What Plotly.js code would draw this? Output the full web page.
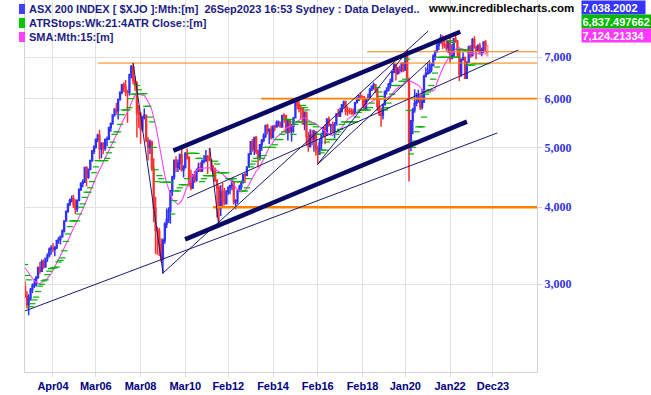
<!DOCTYPE html>
<html>
<head>
<meta charset="utf-8">
<script src="https://cdn.plot.ly/plotly-3.0.1.min.js"></script>
<style>
  html, body { margin: 0; padding: 0; background: #fff; }
  #chart { width: 651px; height: 395px; }
</style>
</head>
<body>
<div id="chart"></div>
<script>
// ---------------- DATA ----------------
const firstYear = 2003; // monthly bars from Jan 2003 to Sep 2023

const openP = [
 2976,2866,2782,2849,2942,2985,3000,3080,3190,3149,3264,3201,
 3306,3340,3420,3431,3420,3438,3533,3548,3587,3665,3801,3936,
 4050,4107,4130,4040,3972,4104,4277,4374,4396,4641,4475,4610,
 4763,4933,5004,5155,5231,4970,5073,4987,5148,5155,5386,5462,
 5644,5766,5736,5978,6145,6311,6274,6144,6141,6567,6754,6424,
 6340,5697,5660,5355,5597,5636,5133,5006,5098,4631,3986,3672,
 3659,3478,3297,3532,3753,3819,3947,4255,4479,4768,4643,4714,
 4871,4596,4639,4893,4809,4367,4301,4493,4427,4582,4631,4585,
 4745,4753,4828,4789,4760,4609,4608,4425,4297,3982,4243,4102,
 4057,4240,4308,4335,4396,4077,4095,4255,4317,4387,4517,4506,
 4649,4879,5104,4966,5191,4926,4803,5052,5135,5218,5425,5320,
 5352,5190,5404,5394,5489,5492,5396,5633,5625,5292,5526,5313,
 5411,5588,5929,5861,5790,5777,5459,5699,5207,5021,5239,5167,
 5296,4977,4881,5083,5252,5378,5233,5562,5433,5436,5317,5440,
 5665,5621,5712,5864,5924,5724,5721,5720,5715,5682,5909,5970,
 6065,6037,6016,5759,5982,6011,6195,6280,6320,6208,5830,5667,
 5646,5865,6169,6181,6326,6397,6619,6813,6604,6688,6663,6846,
 6684,7017,6441,5077,5523,5755,5898,5928,6061,5816,5928,6518,
 6587,6607,6673,6791,7025,7162,7313,7393,7535,7333,7324,7256,
 7445,6971,7049,7500,7435,7211,6568,6945,6987,6475,6863,7284,
 7039,7476,7258,7178,7309,7091,7203,7410,7305
];
const highP = [
 3033,2922,2890,2960,3010,3062,3090,3205,3260,3292,3290,3310,
 3370,3440,3470,3500,3460,3540,3580,3600,3680,3810,3950,4060,
 4130,4180,4190,4120,4110,4290,4390,4440,4650,4660,4620,4770,
 4950,5040,5170,5260,5340,5100,5100,5170,5210,5400,5490,5660,
 5790,5900,5990,6160,6340,6380,6430,6200,6580,6800,6851,6520,
 6400,5850,5700,5620,5790,5640,5200,5150,5130,4800,4160,3720,
 3700,3560,3560,3780,3980,4000,4260,4500,4780,4840,4780,4880,
 4970,4680,4910,4980,4840,4600,4530,4580,4620,4720,4730,4780,
 4860,4950,4860,4990,4790,4680,4640,4440,4340,4340,4380,4300,
 4260,4310,4350,4440,4420,4120,4270,4350,4420,4530,4550,4660,
 4890,5120,5160,5200,5220,4960,5060,5160,5270,5440,5460,5360,
 5420,5430,5440,5530,5530,5500,5640,5680,5650,5530,5560,5460,
 5600,5940,5990,5995,5860,5800,5720,5720,5300,5350,5340,5340,
 5310,5030,5160,5280,5400,5450,5570,5610,5460,5510,5500,5680,
 5770,5800,5880,5960,5950,5830,5800,5790,5780,5920,6030,6080,
 6150,6070,6060,5990,6110,6240,6300,6370,6330,6220,5990,5800,
 5880,6180,6260,6360,6470,6660,6850,6840,6760,6790,6850,6870,
 7080,7197,6490,5540,5800,6210,6130,6200,6090,6220,6560,6740,
 6850,6900,6850,7080,7180,7400,7420,7632,7600,7480,7460,7460,
 7630,7350,7510,7590,7470,7270,6970,7130,7020,6900,7310,7330,
 7520,7569,7310,7350,7380,7260,7420,7460,7330
];
const lowP = [
 2850,2740,2673,2820,2900,2960,2975,3060,3120,3140,3180,3190,
 3260,3320,3350,3380,3330,3420,3490,3480,3570,3640,3790,3920,
 4020,4070,3990,3900,3930,4090,4250,4310,4380,4320,4450,4590,
 4740,4880,4980,5100,4780,4800,4880,4940,5020,5140,5300,5440,
 5610,5650,5550,5960,6100,6150,6050,5480,6070,6470,6330,6180,
 5190,5380,5070,5300,5550,5100,4760,4880,4580,3780,3360,3350,
 3330,3260,3121,3490,3700,3770,3760,4170,4430,4560,4560,4600,
 4570,4470,4620,4780,4320,4260,4280,4380,4400,4560,4560,4560,
 4710,4740,4530,4750,4570,4490,4400,3850,3765,3870,3990,4030,
 4040,4190,4200,4260,4040,3970,4050,4230,4270,4370,4380,4490,
 4640,4860,4920,4860,4880,4640,4760,4940,5100,5180,5250,5060,
 5150,5170,5310,5380,5400,5380,5390,5480,5260,5130,5270,5110,
 5280,5580,5760,5700,5560,5440,5330,5030,4920,5000,5040,4920,
 4850,4707,4860,4940,5200,5060,5220,5400,5230,5270,5170,5430,
 5600,5600,5700,5800,5640,5630,5660,5650,5640,5670,5890,5940,
 5980,5830,5740,5750,5960,5990,6170,6200,6120,5730,5620,5400,
 5550,5850,6090,6180,6230,6380,6600,6420,6560,6580,6620,6620,
 6650,6400,4402,4930,5250,5690,5830,5910,5750,5760,5900,6500,
 6560,6580,6620,6780,6920,7120,7190,7360,7220,7240,7170,7110,
 6860,6950,6990,7390,7000,6407,6510,6910,6470,6470,6860,6980,
 7030,7230,6950,7170,7080,7030,7110,7140,7020
];
const closeP = [
 2866,2782,2849,2942,2985,3000,3080,3190,3149,3264,3201,3306,
 3340,3420,3431,3420,3438,3533,3548,3587,3665,3801,3936,4050,
 4107,4130,4040,3972,4104,4277,4374,4396,4641,4475,4610,4763,
 4933,5004,5155,5231,4970,5073,4987,5148,5155,5386,5462,5644,
 5766,5736,5978,6145,6311,6274,6144,6141,6567,6754,6424,6340,
 5697,5660,5355,5597,5636,5133,5006,5098,4631,3986,3672,3659,
 3478,3297,3532,3753,3819,3947,4255,4479,4768,4643,4714,4871,
 4596,4639,4893,4809,4367,4301,4493,4427,4582,4631,4585,4745,
 4753,4828,4789,4760,4609,4608,4425,4297,3982,4243,4102,4057,
 4240,4308,4335,4396,4077,4095,4255,4317,4387,4517,4506,4649,
 4879,5104,4966,5191,4926,4803,5052,5135,5218,5425,5320,5352,
 5190,5404,5394,5489,5492,5396,5633,5625,5292,5526,5313,5411,
 5588,5929,5861,5790,5777,5459,5699,5207,5021,5239,5167,5296,
 4977,4881,5083,5252,5378,5233,5562,5433,5436,5317,5440,5665,
 5621,5712,5864,5924,5724,5721,5720,5715,5682,5909,5970,6065,
 6037,6016,5759,5982,6011,6195,6280,6320,6208,5830,5667,5646,
 5865,6169,6181,6326,6397,6619,6813,6604,6688,6663,6846,6684,
 7017,6441,5077,5523,5755,5898,5928,6061,5816,5928,6518,6587,
 6607,6673,6791,7025,7162,7313,7393,7535,7333,7324,7256,7445,
 6971,7049,7500,7435,7211,6568,6945,6987,6475,6863,7284,7039,
 7476,7258,7178,7309,7091,7203,7410,7305,7038
];
// closes Nov 2001 - Dec 2002 (off-chart) needed for the 15-month SMA
const priorCloses = [3300,3360,3370,3380,3430,3350,3340,3190,3080,3140,2980,3040,3070,2976];

// ATR trailing stop (weekly 21, 4 ATR) sampled per month
const atrStop = [
 3230,3100,3050,2760,2790,2830,2860,2920,2980,3000,3040,3050,
 3110,3150,3180,3190,3190,3200,3260,3280,3310,3400,3520,3620,
 3720,3800,3800,3800,3800,3900,4000,4050,4150,4230,4230,4300,
 4400,4550,4650,4760,4760,4760,4760,4760,4800,4900,5000,5100,
 5250,5300,5300,5450,5650,5750,5750,5750,5800,6000,6100,6100,
 6300,6200,6110,6110,6110,5830,5830,5600,5500,5000,4600,4400,
 4500,4450,4390,4390,4390,4390,4390,3900,4100,4250,4250,4300,
 4350,4350,4350,4450,4890,4890,4890,4890,4890,4800,4800,4400,
 4450,4500,4500,4500,4500,4500,4750,4700,4550,4550,4550,4550,
 4550,4450,4450,4450,4450,4400,4400,4400,4400,4250,4250,4300,
 4450,4650,4700,4750,4800,4800,4800,4800,4850,5000,5000,5000,
 5000,5000,5050,5150,5150,5150,5250,5300,5550,5550,5550,5500,
 5250,5450,5500,5500,5500,5850,5800,5750,5500,5450,5450,5450,
 5400,5250,5250,4900,4950,4950,5100,5150,5150,5150,5150,5250,
 5300,5350,5450,5500,5500,5500,5500,5500,5500,5500,5600,5700,
 5750,5750,5750,5750,5750,5800,5900,6000,6000,6250,6150,6050,
 6000,5750,5800,5900,6000,6100,6300,6300,6300,6300,6400,6400,
 6450,6950,5740,4880,5000,5120,5300,5400,5400,5400,5600,6100,
 6150,6200,6300,6450,6600,6750,7000,7000,7000,7000,7000,7000,
 7450,7400,7000,7000,7000,7200,7200,7200,7190,7190,6800,6800,
 6800,6837.5,6837.5,6837.5,6837.5,6837.5,6837.5,6837.5,6837.5
];

// x-axis tick labels
const tickDates  = ['2004-04-01','2006-03-01','2008-03-01','2010-03-01','2012-02-01','2014-02-01','2016-02-01','2018-02-01','2020-01-01','2022-01-01','2023-12-01'];
const tickLabels = ['Apr04','Mar06','Mar08','Mar10','Feb12','Feb14','Feb16','Feb18','Jan20','Jan22','Dec23'];
const yTickVals  = [3000,4000,5000,6000,7000];
const yTickText  = ['3,000','4,000','5,000','6,000','7,000'];

// drawn trend lines: anchor dates and index levels
const trendStartDate = ['2002-12-31','2009-03-03','2016-01-25','2016-01-25','2010-03-31','2011-04-05','2007-11-01','2009-08-19','2010-02-26'];
const trendStartVal  = [2716,3129,4690,4690,4140,4990,6851,4940,3548];
const trendEndDate   = ['2024-02-10','2021-01-09','2020-02-15','2021-02-11','2025-01-18','2011-08-25','2009-03-03','2022-06-16','2022-10-03'];
const trendEndVal    = [5277,7722,7190,6929,7193,3765,3129,7700,5504];
const trendHeavy     = [false,false,false,false,false,false,false,true,true];

// horizontal support/resistance levels
const levelStart = ['2006-04-07','2018-04-18','2013-07-22','2011-05-29'];
const levelVal   = [6851,7146,6000,4000];
const levelEnd   = '2026-01-31';

// header values
const lastValues = ['7,038.2002','6,837.497662','7,124.21334'];

// ---------------- BUILD ----------------
const months = closeP.map((_, i) => {
  const y = firstYear + Math.floor(i / 12), m = (i % 12) + 1;
  return y + '-' + String(m).padStart(2, '0') + '-01';
});
const allCloses = priorCloses.concat(closeP);
const sma = closeP.map((_, i) => {
  let s = 0;
  for (let k = i; k < i + 15; k++) s += allCloses[k];
  return s / 15;
});

const n = closeP.length;
const BLUE = '#3030ff', RED = '#ff2f2f', PINK = '#ff9c9c';
const traces = [];

// pending (current month) bar in pink, drawn beneath
traces.push({
  type: 'candlestick',
  x: months.slice(n - 2), open: openP.slice(n - 2), high: highP.slice(n - 2),
  low: lowP.slice(n - 2), close: closeP.slice(n - 2),
  increasing: { line: { color: PINK, width: 1.5 }, fillcolor: PINK },
  decreasing: { line: { color: PINK, width: 1.5 }, fillcolor: PINK },
  whiskerwidth: 0, hoverinfo: 'skip', showlegend: false
});
traces.push({
  type: 'candlestick',
  x: months.slice(0, n - 1), open: openP.slice(0, n - 1), high: highP.slice(0, n - 1),
  low: lowP.slice(0, n - 1), close: closeP.slice(0, n - 1),
  increasing: { line: { color: BLUE, width: 1.5 }, fillcolor: BLUE },
  decreasing: { line: { color: RED, width: 1.5 }, fillcolor: RED },
  whiskerwidth: 0, hoverinfo: 'skip', showlegend: false
});
// SMA
traces.push({
  type: 'scatter', mode: 'lines', x: months, y: sma,
  line: { color: '#ff44ff', width: 1.1 }, hoverinfo: 'skip', showlegend: false
});
// ATR stops
traces.push({
  type: 'scatter', mode: 'markers', x: months, y: atrStop,
  marker: { symbol: 'line-ew', size: 4.5, line: { width: 1.2, color: '#00b400' } },
  hoverinfo: 'skip', showlegend: false
});
// horizontal levels
const levelWidth = [1, 1, 1.6, 2.6];
levelVal.forEach((v, i) => traces.push({
  type: 'scatter', mode: 'lines', x: [levelStart[i], levelEnd], y: [v, v],
  line: { color: '#ff8000', width: levelWidth[i] }, hoverinfo: 'skip', showlegend: false
}));
// trend lines
trendStartDate.forEach((d, i) => traces.push({
  type: 'scatter', mode: 'lines', x: [d, trendEndDate[i]], y: [trendStartVal[i], trendEndVal[i]],
  line: { color: trendHeavy[i] ? '#0a0a66' : '#1a1a70', width: trendHeavy[i] ? 4.5 : 1 },
  hoverinfo: 'skip', showlegend: false
}));

// ---------------- LAYOUT ----------------
const PW = 512, PH = 372, L = 25;
const px = x => (x - L) / PW;
const py = y => (PH - y) / PH;
const NAVY = '#1c1c84';
const hdrFont = { family: 'Liberation Sans, Arial, sans-serif', size: 11, color: NAVY, weight: 'bold' };

const annotations = [
  { text: 'ASX 200 INDEX [ $XJO ]:Mth:[m]  26Sep2023 16:53 Sydney : Data Delayed..', x: px(28), y: py(9) },
  { text: 'ATRStops:Wk:21:4ATR Close::[m]', x: px(28), y: py(23) },
  { text: 'SMA:Mth:15:[m]', x: px(28), y: py(37) }
].map(a => Object.assign({ xref: 'paper', yref: 'paper', xanchor: 'left', yanchor: 'middle',
  showarrow: false, font: hdrFont, borderpad: 0 }, a));

annotations.push({
  text: 'www.incrediblecharts.com', xref: 'paper', yref: 'paper', x: px(501), y: py(8),
  xanchor: 'center', yanchor: 'middle', showarrow: false, borderpad: 0,
  font: { family: 'Liberation Sans, Arial, sans-serif', size: 11.5, color: '#000', weight: 'bold' }
});
const boxColors = ['#3535ff', '#00b800', '#ff38ff'];
const boxW = [62, 70, 68];
const boxY = [7.5, 21.5, 35.5];
lastValues.forEach((t, i) => annotations.push({
  text: t, xref: 'paper', yref: 'paper', x: px(581), y: py(boxY[i]),
  xanchor: 'left', yanchor: 'middle', showarrow: false, align: 'left',
  bgcolor: boxColors[i], width: boxW[i], height: 12, borderpad: 0.5,
  font: { family: 'Liberation Sans, Arial, sans-serif', size: 11, color: '#ffffff', weight: 'bold' }
}));

const swatchColors = ['#4040ff', '#00c800', '#ff40ff'];
const swatchY = [[4, 14], [18, 28], [32, 42]];
const shapes = swatchColors.map((c, i) => ({
  type: 'rect', xref: 'paper', yref: 'paper',
  x0: px(19), x1: px(25), y0: py(swatchY[i][1]), y1: py(swatchY[i][0]),
  fillcolor: c, line: { width: 0 }, layer: 'above'
}));

const layout = {
  width: 651, height: 395,
  margin: { l: L, r: 651 - L - PW, t: 0, b: 395 - PH },
  paper_bgcolor: '#ffffff', plot_bgcolor: '#ffffff',
  showlegend: false,
  xaxis: {
    type: 'date', range: ['2002-12-31', '2025-11-20'],
    tickmode: 'array', tickvals: tickDates, ticktext: tickLabels,
    ticks: 'outside', ticklen: 4, tickcolor: '#d8d8d8',
    showgrid: true, gridcolor: '#e2e2e2', gridwidth: 1,
    showline: true, linecolor: '#d4d4d4', mirror: true, zeroline: false,
    rangeslider: { visible: false }, fixedrange: true,
    tickfont: { family: 'Liberation Sans, Arial, sans-serif', size: 11, color: '#000080', weight: 'bold' }
  },
  yaxis: {
    type: 'log', side: 'right', range: [3.33494, 3.93796],
    tickmode: 'array', tickvals: yTickVals, ticktext: yTickText,
    ticks: 'outside', ticklen: 4, tickcolor: '#d4d4d4',
    showgrid: true, gridcolor: '#e2e2e2', gridwidth: 1,
    showline: true, linecolor: '#d4d4d4', mirror: true, zeroline: false, fixedrange: true,
    tickfont: { family: 'Liberation Serif, Times New Roman, serif', size: 12, color: '#3333dd', weight: 'bold' }
  },
  annotations: annotations,
  shapes: shapes
};

Plotly.newPlot('chart', traces, layout, { displayModeBar: false, staticPlot: true });
</script>
</body>
</html>
